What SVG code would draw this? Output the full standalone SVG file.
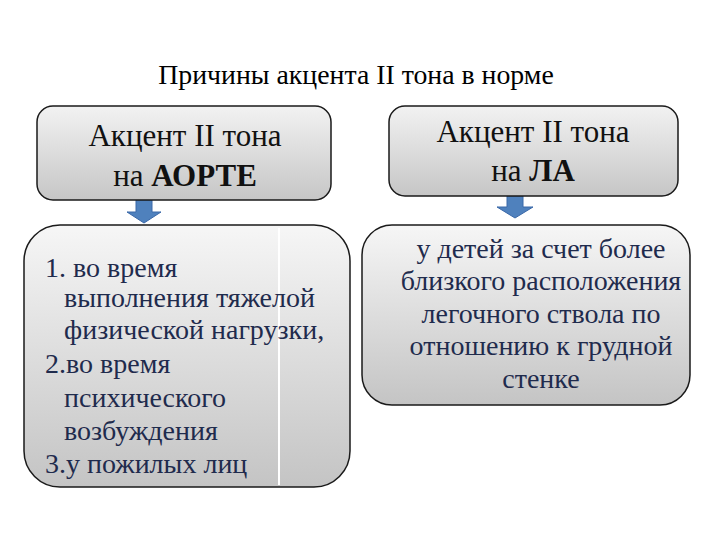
<svg xmlns="http://www.w3.org/2000/svg" width="720" height="540" viewBox="0 0 720 540">
<style>
.t{font-family:"Liberation Serif","Times New Roman",serif;fill:#000}
.h{font-family:"Liberation Serif","Times New Roman",serif;font-size:31px;fill:#111;text-anchor:middle}
.b{font-family:"Liberation Serif","Times New Roman",serif;font-size:28px;fill:#1f2b4d}
.box{stroke:#1a1a1a;stroke-width:1.5}
.arr{fill:#4f81bd;stroke:#3a68a8;stroke-width:1}
</style>
<defs>
<linearGradient id="g1" x1="0" y1="0" x2="0" y2="1">
<stop offset="0" stop-color="#f2f2f2"/>
<stop offset="1" stop-color="#c6c6c6"/>
</linearGradient>
<linearGradient id="g2" x1="0" y1="0" x2="0" y2="1">
<stop offset="0" stop-color="#f6f6f6"/>
<stop offset="1" stop-color="#c4c4c4"/>
</linearGradient>
</defs>
<rect width="720" height="540" fill="#fff"/>
<text id="title" class="t" x="356" y="84" font-size="27.8" text-anchor="middle">Причины акцента II тона в норме</text>
<g id="connectors">
<path class="arr" d="M136 200 H152 V212 H161 L144 223 L127 212 H136 Z"/>
<path class="arr" d="M507 196 H523 V207 H533 L515 218 L497 207 H507 Z"/>
</g>
<g id="aorta">
<rect class="box" x="37" y="106" width="294" height="94" rx="16" fill="url(#g1)"/>
<text class="h" x="185" y="146">Акцент II тона</text>
<text class="h" x="185" y="186">на <tspan font-weight="bold">АОРТЕ</tspan></text>
</g>
<g id="la">
<rect class="box" x="389" y="106" width="289" height="90" rx="16" fill="url(#g1)"/>
<text class="h" x="533" y="142">Акцент II тона</text>
<text class="h" x="533" y="181">на <tspan font-weight="bold">ЛА</tspan></text>
</g>
<g id="aorta-causes">
<rect class="box" x="24" y="225" width="326" height="262" rx="36" fill="url(#g2)"/>
<line x1="279" y1="228" x2="279" y2="485" stroke="#ffffff" stroke-width="2"/>
<text class="b" x="45" y="277">1. во время</text>
<text class="b" x="64" y="307">выполнения тяжелой</text>
<text class="b" x="64" y="339">физической нагрузки,</text>
<text class="b" x="45" y="373">2.во время</text>
<text class="b" x="64" y="407">психического</text>
<text class="b" x="64" y="440">возбуждения</text>
<text class="b" x="45" y="473">3.у пожилых лиц</text>
</g>
<g id="la-causes">
<rect class="box" x="362" y="225" width="328" height="180" rx="30" fill="url(#g2)"/>
<text class="b" x="541" y="258" text-anchor="middle">у детей за счет более</text>
<text class="b" x="541" y="290" text-anchor="middle">близкого расположения</text>
<text class="b" x="541" y="323" text-anchor="middle">легочного ствола по</text>
<text class="b" x="541" y="355" text-anchor="middle">отношению к грудной</text>
<text class="b" x="541" y="388" text-anchor="middle">стенке</text>
</g>
</svg>
